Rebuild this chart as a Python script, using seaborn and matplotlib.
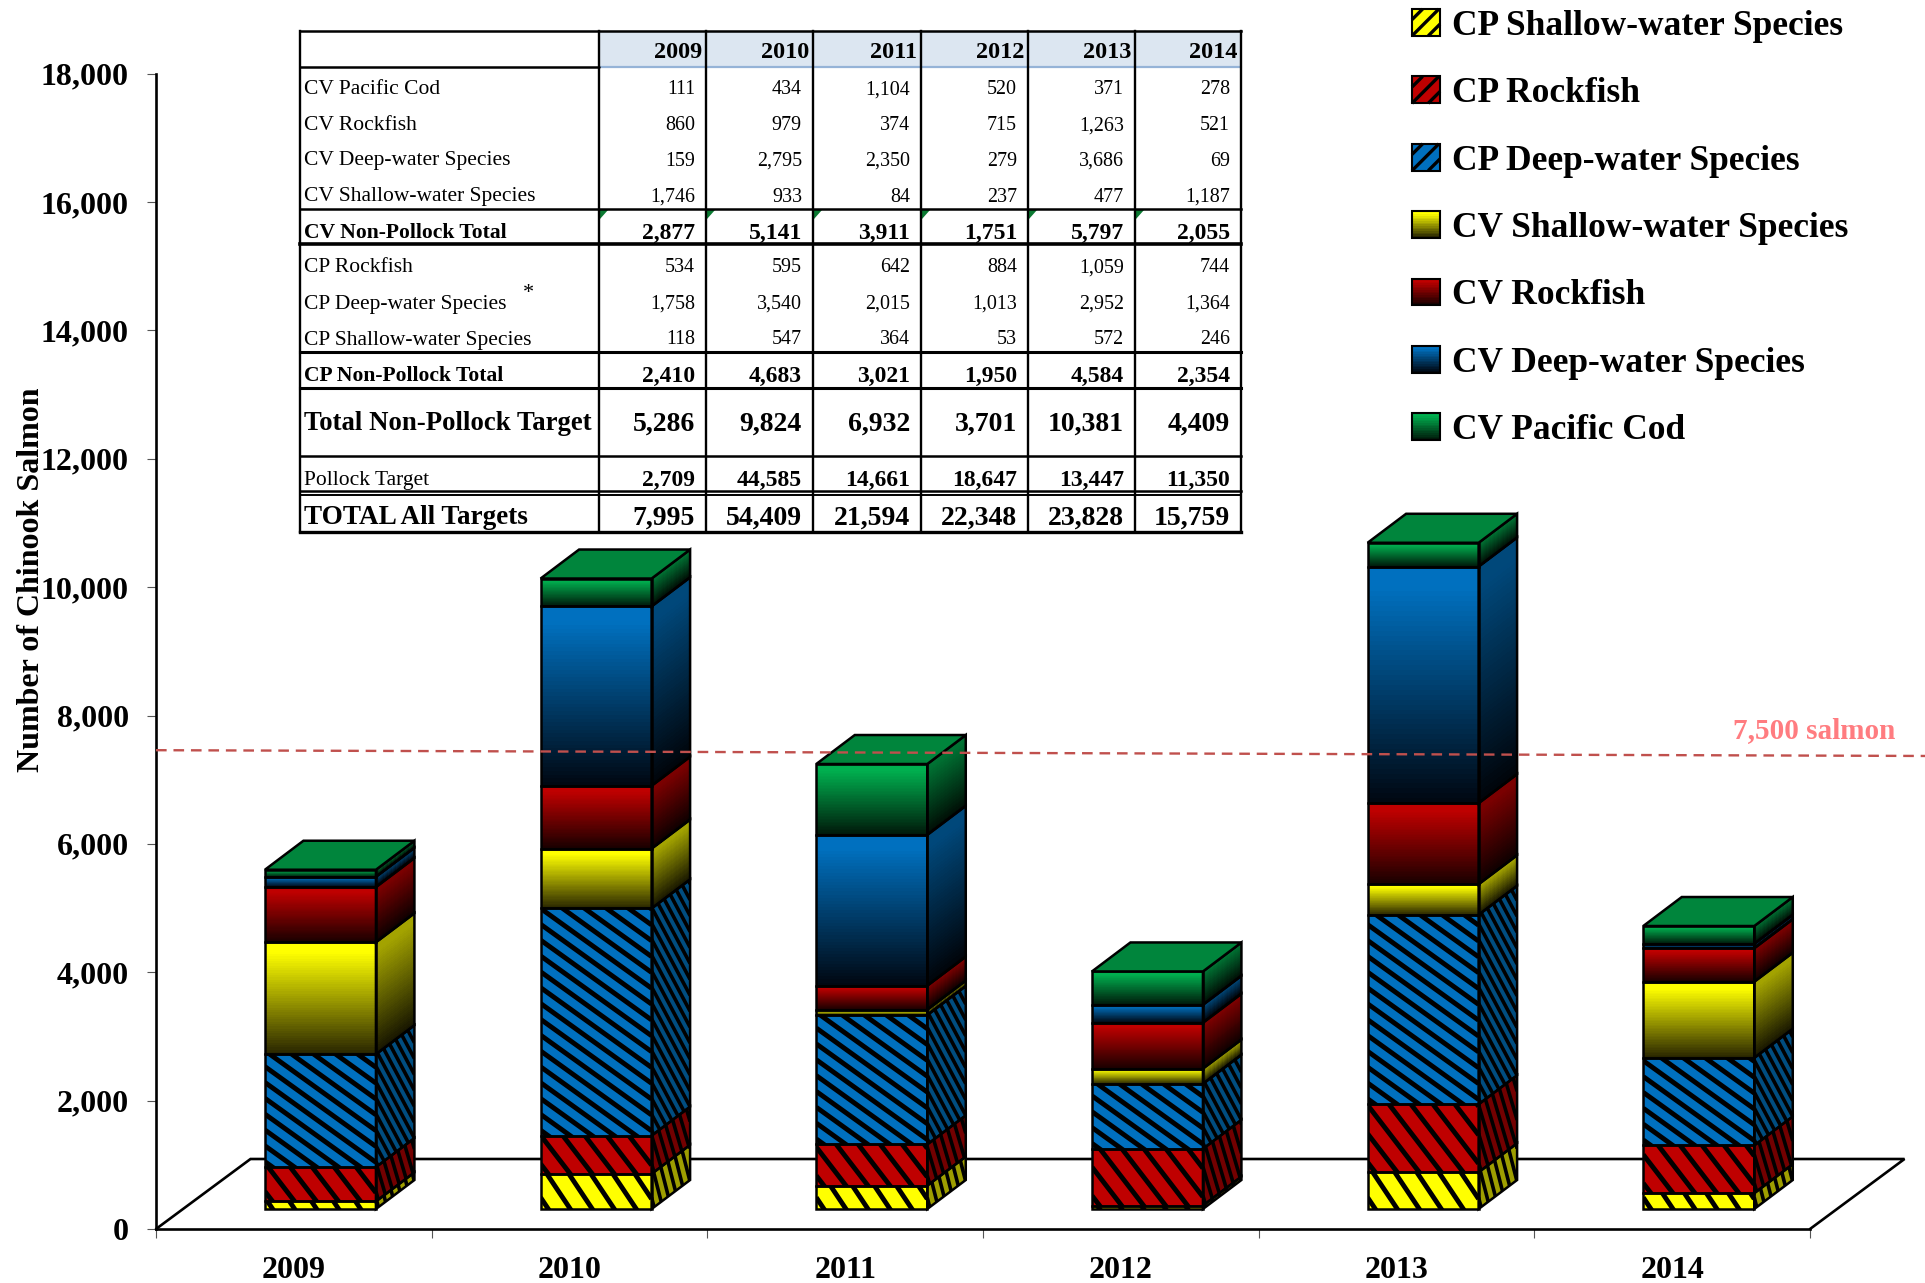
import numpy as np
import matplotlib
matplotlib.use("Agg")
import matplotlib.pyplot as plt
import pandas as pd
import seaborn as sns
from matplotlib.collections import LineCollection
from matplotlib.legend_handler import HandlerBase
from matplotlib.lines import Line2D
from matplotlib.patches import Patch, Polygon, Rectangle

years = ["2009", "2010", "2011", "2012", "2013", "2014"]
cv_cod = [111, 434, 1104, 520, 371, 278]
cv_rock = [860, 979, 374, 715, 1263, 521]
cv_deep = [159, 2795, 2350, 279, 3686, 69]
cv_shallow = [1746, 933, 84, 237, 477, 1187]
cv_total = [2877, 5141, 3911, 1751, 5797, 2055]
cp_rock = [534, 595, 642, 884, 1059, 744]
cp_deep = [1758, 3540, 2015, 1013, 2952, 1364]
cp_shallow = [118, 547, 364, 53, 572, 246]
cp_total = [2410, 4683, 3021, 1950, 4584, 2354]
non_pollock = [5286, 9824, 6932, 3701, 10381, 4409]
pollock = [2709, 44585, 14661, 18647, 13447, 11350]
all_targets = [7995, 54409, 21594, 22348, 23828, 15759]
threshold_line = [7460, 7370]

W, H = 1925, 1283
AX_L, AX_R, AX_B, AX_T = 156, 1810, 1229, 73.7
PX_X = (AX_R - AX_L) / 6
PX_Y = (AX_B - AX_T) / 18000

sns.set_theme(style="white")
plt.rcParams["font.family"] = ["Liberation Serif", "DejaVu Serif"]

fig = plt.figure(figsize=(W / 100, H / 100), dpi=100, facecolor="white")
ax = fig.add_axes([AX_L / W, 1 - AX_B / H, (AX_R - AX_L) / W, (AX_B - AX_T) / H])

# bottom to top: name, values, top colour, foot colour, side colour, hatched, hatch slope
series = [
    ("CP Shallow-water Species", cp_shallow, (1, 1, 0), None, (.62, .62, 0), True, 1.5),
    ("CP Rockfish", cp_rock, (.75, 0, 0), None, (.45, 0, 0), True, 1.3),
    ("CP Deep-water Species", cp_deep, (0, .44, .75), None, (0, .30, .50), True, .72),
    ("CV Shallow-water Species", cv_shallow, (1, 1, 0), (.16, .15, 0), None, False, 0),
    ("CV Rockfish", cv_rock, (.75, 0, 0), (.10, 0, 0), None, False, 0),
    ("CV Deep-water Species", cv_deep, (0, .44, .75), (0, .03, .07), None, False, 0),
    ("CV Pacific Cod", cv_cod, (0, .69, .31), (0, .10, .04), None, False, 0),
]

BAR_W = 111 / PX_X
X_SHIFT = 26.6 / PX_X
BASE = 20 / PX_Y
DX = 38.5 / PX_X
DY = 29 / PX_Y
EDGE = 1.8
TOP_GREEN = (0, .52, .235)
xpos = np.arange(6) + X_SHIFT


def ramp(top, foot, n=48):
    t = np.linspace(0, 1, n)
    g = np.clip((t - .08) / .92, 0, 1)[:, None]
    return np.array(top) * (1 - g) + np.array(foot) * g


def stripes(x0, x1, lo, hi, rise, slope, pitch, clip, zorder, lw):
    # descending lines, worked out in pixels and converted to data units
    width = (x1 - x0) * PX_X
    height = (hi - lo) * PX_Y + rise
    c = pitch * slope * .35
    segs = []
    while c < height + slope * width + pitch * slope:
        segs.append([(x0, lo + c / PX_Y), (x1, lo + (c - slope * width) / PX_Y)])
        c += pitch * slope
    lc = LineCollection(segs, colors="black", linewidths=lw, zorder=zorder)
    ax.add_collection(lc, autolim=False)
    lc.set_clip_path(clip)


bottom = np.full(6, BASE)
for name, vals, col, foot, side, hatched, slope in series:
    frame = pd.DataFrame({"x": xpos, "y": vals})
    n_before = len(ax.patches)
    sns.barplot(data=frame, x="x", y="y", native_scale=True, width=BAR_W, bottom=bottom,
                color=col, saturation=1, errorbar=None, linewidth=0, zorder=2, ax=ax)
    bars = ax.patches[n_before:]
    for i, bar in enumerate(bars):
        x0, x1 = bar.get_x(), bar.get_x() + bar.get_width()
        lo, hi = bar.get_y(), bar.get_y() + bar.get_height()
        poly = Polygon([(x1, lo), (x1 + DX, lo + DY), (x1 + DX, hi + DY), (x1, hi)], closed=True,
                       fc=side if hatched else "none", ec="none", zorder=2)
        ax.add_patch(poly)
        if hatched:
            stripes(x0, x1, lo, hi, 0, slope, 22, bar, 2.5, 3.5)
            stripes(x1, x1 + DX, lo, hi, 29, min(slope * 2.6, 4.2), 8.5, poly, 2.5, 2.6)
        else:
            cols = ramp(col, foot)
            ys = np.linspace(hi, lo, 49)
            ax.pcolormesh([x0, x1], ys, cols[:, None, :], zorder=2.2, linewidth=0,
                          antialiased=False, rasterized=True)
            cols_s = ramp(tuple(.64 * np.array(col)), tuple(.6 * np.array(foot)))
            XS = np.column_stack([np.full(49, x1), np.full(49, x1 + DX)])
            YS = np.column_stack([ys, ys + DY])
            ax.pcolormesh(XS, YS, cols_s[:, None, :], zorder=2.2, linewidth=0,
                          antialiased=False, rasterized=True)
        ax.add_patch(Rectangle((x0, lo), x1 - x0, hi - lo, fill=False, ec="black", lw=EDGE, zorder=4))
        ax.add_patch(Polygon(poly.get_xy(), closed=True, fill=False, ec="black", lw=EDGE, zorder=4))
    bottom = bottom + np.array(vals)

for i, x in enumerate(xpos):
    x0, x1 = x - BAR_W / 2, x + BAR_W / 2
    t = bottom[i]
    ax.add_patch(Polygon([(x0, t), (x0 + DX, t + DY), (x1 + DX, t + DY), (x1, t)], closed=True,
                         fc=TOP_GREEN, ec="black", lw=EDGE, zorder=4))

# chart floor
FX, FY = 94.5 / PX_X, 70 / PX_Y
ax.plot([-.5, -.5 + FX, 5.5 + FX, 5.5], [0, FY, FY, 0], color="black", lw=1.9,
        clip_on=False, zorder=1, solid_joinstyle="miter")

# reference line
ax.plot([-.5, (W - AX_L) / PX_X - .5], threshold_line, color="#C0504D", lw=1.7,
        dashes=(4.5, 2.9), clip_on=False, zorder=5)
ax.text((1895 - AX_L) / PX_X - .5, (AX_B - 738) / PX_Y, "7,500 salmon", color="#FF7C80",
        fontsize=21, fontweight="bold", ha="right", va="baseline", clip_on=False)

ax.set_xlim(-.5, 5.5)
ax.set_ylim(0, 18000)
for s in ("top", "right"):
    ax.spines[s].set_visible(False)
for s in ("left", "bottom"):
    ax.spines[s].set_color("black")
    ax.spines[s].set_linewidth(1.9)
ax.set_yticks(np.arange(0, 18001, 2000))
ax.set_yticklabels([f"{v:,}" for v in range(0, 18001, 2000)], fontsize=23, fontweight="bold", color="black")
ax.set_xticks(np.arange(6))
ax.set_xticklabels(years, fontsize=23, fontweight="bold", color="black")
ax.set_xticks(np.arange(-.5, 6), minor=True)
ax.tick_params(axis="y", which="major", left=True, length=6.5, width=.8, color="#555555", pad=13)
ax.tick_params(axis="x", which="major", bottom=False, length=0, pad=19.5)
ax.tick_params(axis="x", which="minor", bottom=True, length=6.5, width=.8, color="#555555")
ax.set_xlabel("")
ax.set_ylabel("Number of Chinook Salmon", fontsize=23, fontweight="bold", color="black")
ax.yaxis.set_label_coords((46 - AX_L) / (AX_R - AX_L), (1001 - 472) / 941)


class Swatch(HandlerBase):
    def __init__(self, top, foot, hatched):
        super().__init__()
        self.top, self.foot, self.hatched = top, foot, hatched

    def create_artists(self, legend, orig, xd, yd, width, height, fontsize, trans):
        out = []
        x, y = -xd, -yd
        if self.hatched:
            out.append(Rectangle((x, y), width, height, fc=self.top, ec="none", transform=trans))
            # rising stripes, trimmed to the box
            for frac in (-.58, 0, .58):
                c = frac * width
                u0 = max(0, -c)
                u1 = min(width, height - c)
                out.append(Line2D([x + u0, x + u1], [y + u0 + c, y + u1 + c], color="black",
                                  lw=2.4, transform=trans, solid_capstyle="butt"))
            out.append(Rectangle((x, y), width, height, fill=False, ec="black", lw=1.5, transform=trans))
            return out
        cols = ramp(self.top, self.foot, 16)
        for k, c in enumerate(cols):
            out.append(Rectangle((x, y + height * (15 - k) / 16), width, height / 16 + .3, fc=c,
                                 ec="none", lw=0, transform=trans))
        out.append(Rectangle((x, y), width, height, fill=False, ec="black", lw=1.5, transform=trans))
        return out


handles, labels, hmap = [], [], {}
for name, vals, col, foot, side, hatched, slope in series:
    h = Patch(label=name)
    handles.append(h)
    labels.append(name)
    hmap[h] = Swatch(col, foot, hatched)
LEG_FS = 25.5
em = LEG_FS * 100 / 72
fig.legend(handles, labels, handler_map=hmap, loc="upper left",
           bbox_to_anchor=(1412 / W, 1 - 9 / H), bbox_transform=fig.transFigure, frameon=False,
           prop={"family": "Liberation Serif", "weight": "bold", "size": LEG_FS},
           labelcolor="black", handlelength=28 / em, handleheight=28 / em,
           handletextpad=12 / em, labelspacing=.95, borderpad=0, borderaxespad=0)

# summary table on a pixel-scaled overlay
ov = fig.add_axes([0, 0, 1, 1], facecolor="none")
ov.set_xlim(0, W)
ov.set_ylim(H, 0)
ov.axis("off")
col_x = [300, 599, 706, 813, 921, 1028, 1135, 1241]
row_y = [31, 67, 209, 244, 352, 388, 456, 491, 532]

ov.add_patch(Rectangle((col_x[1], row_y[0]), col_x[-1] - col_x[1], row_y[1] - row_y[0], fc="#DCE6F1", ec="none"))
ov.plot([col_x[1], col_x[-1]], [row_y[1]] * 2, color="#95B3D7", lw=1.6)
ov.plot([col_x[0], col_x[1]], [row_y[1]] * 2, color="black", lw=1.8)
for y, lw in zip(row_y, [1.8, 0, 1.8, 2.6, 2.2, 2.2, 1.8, 1.8, 2.4]):
    if lw:
        ov.plot([col_x[0], col_x[-1]], [y, y], color="black", lw=lw, solid_capstyle="projecting")
ov.plot([col_x[0], col_x[-1]], [495, 495], color="black", lw=1.4)
for x in col_x:
    ov.plot([x, x], [row_y[0], row_y[-1]], color="black", lw=1.7, solid_capstyle="projecting")

for x0 in col_x[1:7]:
    ov.add_patch(Polygon([(x0 + 1, 210), (x0 + 9, 210), (x0 + 1, 219)], closed=True, fc="#0B7A32", ec="none"))

for k, y in enumerate(years):
    ov.text(col_x[k + 2] - 4, 53, y, ha="right", va="center", fontsize=17.5, fontweight="bold", color="black")

table_rows = [
    ("CV Pacific Cod", cv_cod, 90, "normal", 15.5, 14.4),
    ("CV Rockfish", cv_rock, 126, "normal", 15.5, 14.4),
    ("CV Deep-water Species", cv_deep, 161, "normal", 15.5, 14.4),
    ("CV Shallow-water Species", cv_shallow, 197, "normal", 15.5, 14.4),
    ("CV Non-Pollock Total", cv_total, 233, "bold", 15.6, 17),
    ("CP Rockfish", cp_rock, 268, "normal", 15.5, 14.4),
    ("CP Deep-water Species", cp_deep, 304, "normal", 15.5, 14.4),
    ("CP Shallow-water Species", cp_shallow, 340, "normal", 15.5, 14.4),
    ("CP Non-Pollock Total", cp_total, 376, "bold", 15.6, 17),
    ("Total Non-Pollock Target", non_pollock, 424, "bold", 19.3, 20),
    ("Pollock Target", pollock, 480, "normal", 15.5, 17),
    ("TOTAL All Targets", all_targets, 518, "bold", 19.5, 20),
]
for label, vals, y, weight, fs, vfs in table_rows:
    ov.text(304, y, label, ha="left", va="center", fontsize=fs, fontweight=weight, color="black")
    vw = "normal" if vfs == 14.4 else "bold"
    for k, v in enumerate(vals):
        ov.text(col_x[k + 2] - 11, y, f"{v:,}", ha="right", va="center", fontsize=vfs, fontweight=vw, color="black")
ov.text(528, 294, "*", ha="center", va="center", fontsize=16, color="black")

fig.savefig("out.png", dpi=100, facecolor="white")
